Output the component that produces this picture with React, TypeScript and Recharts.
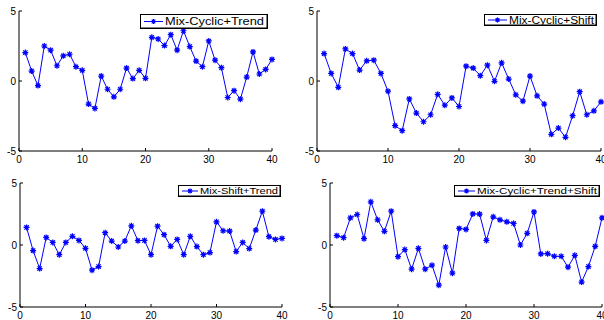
import React from 'react'
import { Legend, Line, LineChart, XAxis, YAxis } from 'recharts'

// time steps on the x axis
const steps = [
  1, 2, 3, 4, 5, 6, 7, 8, 9, 10, 11, 12, 13, 14, 15, 16, 17, 18, 19, 20,
  21, 22, 23, 24, 25, 26, 27, 28, 29, 30, 31, 32, 33, 34, 35, 36, 37, 38, 39, 40,
]
const xTicks = [0, 10, 20, 30, 40]
const yTicks = [-5, 0, 5]

const cyclicTrend = [
  2.03, 0.71, -0.33, 2.5, 2.2, 1.09, 1.8, 1.91, 1.02, 0.76, -1.65, -1.96, 0.35, -0.59, -1.13, -0.59, 0.92, 0.17, 0.76, 0.19,
  3.12, 3.0, 2.53, 3.31, 2.2, 3.59, 2.46, 1.42, 1.02, 2.86, 1.49, 0.95, -1.18, -0.69, -1.3, 0.28, 2.08, 0.5, 0.83, 1.54,
]
const cyclicShift = [
  1.96, 0.54, -0.45, 2.29, 1.96, 0.78, 1.44, 1.49, 0.54, -0.73, -3.19, -3.55, -1.28, -2.29, -2.91, -2.41, -0.95, -1.73, -1.21, -1.82,
  1.06, 0.92, 0.38, 1.13, -0.02, 1.3, 0.14, -0.99, -1.44, 0.35, -1.06, -1.65, -3.81, -3.36, -4.02, -2.48, -0.76, -2.41, -2.13, -1.49,
]
const shiftTrend = [
  1.42, -0.45, -1.9, 0.61, 0.21, -0.78, 0.21, 0.7, 0.37, -0.27, -2.03, -1.74, 0.99, 0.32, -0.16, 0.32, 1.55, 0.35, 0.37, -0.78,
  1.52, 0.83, -0.11, 0.45, -0.78, 0.7, -0.13, -0.78, -0.61, 1.87, 1.15, 1.12, -0.53, 0.21, -0.29, 1.2, 2.73, 0.67, 0.45, 0.53,
]
const cyclicTrendShift = [
  0.75, 0.59, 2.19, 2.46, 0.51, 3.48, 2.03, 1.1, 2.73, -0.94, -0.37, -1.95, -0.27, -1.95, -1.63, -3.24, -0.16, -2.27, 1.34, 1.26,
  2.51, 2.49, 0.37, 2.27, 2.03, 1.87, 1.74, 0, 0.94, 2.67, -0.72, -0.7, -0.91, -0.91, -1.79, -0.83, -2.99, -1.74, -0.11, 2.19,
]

const BLUE = '#0000ff'
const FONT = '"Liberation Sans", Arial, Helvetica, sans-serif'

const star = (cx: number, cy: number, r: number) => {
  const d = r * 0.72
  return `M${cx - r},${cy}L${cx + r},${cy}M${cx},${cy - r}L${cx},${cy + r}` +
    `M${cx - d},${cy - d}L${cx + d},${cy + d}M${cx - d},${cy + d}L${cx + d},${cy - d}`
}

const renderStar = (props: any) => {
  const { cx, cy, index } = props
  if (cx == null || cy == null) return <g key={index} />
  return <path key={index} d={star(cx, cy, 3)} stroke={BLUE} strokeWidth={1.2} fill="none" />
}

interface LegendBox { x: number; y: number; w: number; h: number; lineW: number; textW: number; font: number }

const makeLegend = (name: string, lb: LegendBox) => () => (
  <svg width={lb.w} height={lb.h} style={{ display: 'block' }}>
    <rect x={0.5} y={0.5} width={lb.w - 1} height={lb.h - 1} fill="#fff" stroke="#000" strokeWidth={1} />
    <line x1={lb.w - 1} y1={1} x2={lb.w - 1} y2={lb.h - 1} stroke="#000" strokeWidth={1} />
    <line x1={1} y1={lb.h - 1} x2={lb.w - 1} y2={lb.h - 1} stroke="#000" strokeWidth={1} />
    <line x1={4} y1={lb.h / 2} x2={4 + lb.lineW} y2={lb.h / 2} stroke={BLUE} strokeWidth={1} />
    <path d={star(4 + lb.lineW / 2, lb.h / 2, 2.5)} stroke={BLUE} strokeWidth={1.2} fill="none" />
    <text
      x={lb.lineW + 6}
      y={lb.h / 2 + lb.font * 0.36}
      fontSize={lb.font}
      fontFamily={FONT}
      fill="#000"
      textLength={lb.textW}
      lengthAdjust="spacingAndGlyphs"
    >
      {name}
    </text>
  </svg>
)

interface PanelProps {
  name: string
  values: number[]
  x0: number
  x1: number
  y0: number
  y1: number
  legend: LegendBox
}

const Panel = ({ name, values, x0, x1, y0, y1, legend }: PanelProps) => {
  const data = steps.map((t, i) => ({ t, v: values[i] }))
  const left = x0 - 19
  const top = y0 - 6
  const width = x1 - x0 + 25
  const height = y1 - y0 + 26
  const axisStyle = { stroke: '#000', strokeWidth: 1 }
  const tickStyle = { fill: '#000', fontSize: 10, fontFamily: FONT }
  return (
    <div style={{ position: 'absolute', left, top, width, height }}>
      <LineChart width={width} height={height} data={data} margin={{ top: 6, right: 6, left: 0, bottom: 0 }}>
        <XAxis
          xAxisId="b"
          dataKey="t"
          type="number"
          domain={[0, 40]}
          ticks={xTicks}
          interval={0}
          height={20}
          tickSize={-3}
          tickMargin={8}
          axisLine={axisStyle}
          tickLine={axisStyle}
          tick={tickStyle}
        />
        <XAxis
          xAxisId="t"
          orientation="top"
          dataKey="t"
          type="number"
          domain={[0, 40]}
          ticks={xTicks}
          interval={0}
          height={0}
          tickSize={-3}
          axisLine={axisStyle}
          tickLine={axisStyle}
          tick={false}
        />
        <YAxis
          yAxisId="l"
          type="number"
          domain={[-5, 5]}
          ticks={yTicks}
          interval={0}
          width={19}
          tickSize={-3}
          tickMargin={6}
          axisLine={axisStyle}
          tickLine={axisStyle}
          tick={tickStyle}
        />
        <YAxis
          yAxisId="r"
          orientation="right"
          type="number"
          domain={[-5, 5]}
          ticks={yTicks}
          interval={0}
          width={0}
          tickSize={-3}
          axisLine={axisStyle}
          tickLine={axisStyle}
          tick={false}
        />
        <Legend
          layout="vertical"
          align="center"
          verticalAlign="middle"
          content={makeLegend(name, legend)}
          wrapperStyle={{ position: 'absolute', left: legend.x - left, top: legend.y - top, width: legend.w, height: legend.h }}
        />
        <Line
          xAxisId="b"
          yAxisId="l"
          dataKey="v"
          name={name}
          stroke={BLUE}
          strokeWidth={1}
          dot={renderStar}
          activeDot={false}
          isAnimationActive={false}
        />
      </LineChart>
    </div>
  )
}

const App = () => (
  <div style={{ position: 'absolute', left: 0, top: 0, width: 604, height: 320, overflow: 'hidden', background: '#fff' }}>
    <Panel
      name="Mix-Cyclic+Trend"
      values={cyclicTrend}
      x0={19} x1={272} y0={11} y1={151}
      legend={{ x: 140, y: 14, w: 128, h: 15, lineW: 19, textW: 99, font: 11 }}
    />
    <Panel
      name="Mix-Cyclic+Shift"
      values={cyclicShift}
      x0={317} x1={601} y0={11} y1={151}
      legend={{ x: 484, y: 14, w: 113, h: 12, lineW: 19, textW: 85, font: 10 }}
    />
    <Panel
      name="Mix-Shift+Trend"
      values={shiftTrend}
      x0={20} x1={282} y0={183} y1={307}
      legend={{ x: 178, y: 185, w: 103, h: 12, lineW: 16, textW: 78, font: 9 }}
    />
    <Panel
      name="Mix-Cyclic+Trend+Shift"
      values={cyclicTrendShift}
      x0={330} x1={602} y0={183} y1={307}
      legend={{ x: 454, y: 185, w: 146, h: 12, lineW: 17, textW: 120, font: 9.5 }}
    />
  </div>
)

export default App
